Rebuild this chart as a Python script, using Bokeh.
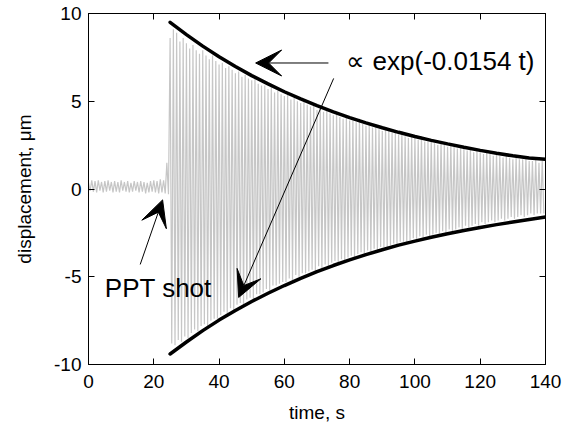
import numpy as np
from bokeh.plotting import figure
from bokeh.models import Label, Arrow, VeeHead, LinearAxis, FixedTicker, Range1d, CustomJSTickFormatter
from bokeh.embed import file_html
from bokeh.resources import INLINE

# ---------------- data ----------------
x_ticks = [0, 20, 40, 60, 80, 100, 120, 140]
y_ticks = [-10, -5, 0, 5, 10]

# fitted decay envelope (black curves)
env_t = [25, 30, 35, 40, 45, 50, 55, 60, 65, 70, 75, 80, 85, 90, 95, 100,
         105, 110, 115, 120, 125, 130, 135, 140]
env_upper = [9.50, 8.80, 8.14, 7.54, 6.98, 6.46, 5.99, 5.54, 5.13, 4.75, 4.40, 4.07,
             3.77, 3.49, 3.23, 2.99, 2.77, 2.57, 2.38, 2.20, 2.04, 1.89, 1.77, 1.70]
env_lower = [-9.40, -8.72, -8.07, -7.47, -6.92, -6.41, -5.94, -5.50, -5.09, -4.71, -4.36,
             -4.04, -3.74, -3.46, -3.20, -2.97, -2.75, -2.55, -2.36, -2.19, -2.03, -1.88,
             -1.74, -1.60]

# measured displacement signal: positive and negative peaks, one cycle per second
sig_t = np.arange(0, 140, 1.0)
pre_hi = [0.35, 0.50, 0.45, 0.50, 0.40, 0.45, 0.50, 0.40, 0.45, 0.40, 0.50, 0.40, 0.45,
          0.35, 0.45, 0.40, 0.45, 0.40, 0.35, 0.45, 0.50, 0.45, 0.55, 0.50, 1.50]
pre_lo = [-0.10, -0.15, -0.20, -0.10, -0.20, -0.15, -0.10, -0.20, -0.15, -0.20, -0.10,
          -0.15, -0.20, -0.15, -0.10, -0.20, -0.15, -0.25, -0.20, -0.15, -0.20, -0.25,
          -0.20, -0.25, -0.30]
post_hi = [8.6, 9.1, 8.9, 8.4, 8.6, 8.3, 8.0, 8.2, 7.9, 7.7, 7.9, 7.6, 7.4, 7.6, 7.3, 7.1,
           7.2, 6.9, 7.0, 6.8, 6.6, 6.7, 6.4, 6.5, 6.3, 6.2, 6.3, 6.0, 5.9, 5.9, 5.7, 5.8,
           5.5, 5.6, 5.4, 5.3, 5.4, 5.1, 5.2, 5.0, 4.9, 5.0, 4.8, 4.7, 4.8, 4.5, 4.6, 4.4,
           4.5, 4.3, 4.2, 4.4, 4.1, 4.0, 4.2, 3.9, 3.9, 3.8, 4.0, 3.7, 3.6, 3.7, 3.5, 3.6,
           3.4, 3.3, 3.5, 3.3, 3.2, 3.2, 3.1, 3.3, 3.0, 2.9, 3.0, 2.9, 2.8, 3.0, 2.7, 2.7,
           2.8, 2.6, 2.5, 2.7, 2.5, 2.4, 2.6, 2.4, 2.3, 2.4, 2.3, 2.2, 2.3, 2.1, 2.2, 2.1,
           2.0, 2.2, 2.0, 1.9, 2.0, 1.9, 1.8, 2.0, 1.8, 1.7, 1.8, 1.7, 1.7, 1.8, 1.6, 1.6,
           1.7, 1.5, 1.6]
post_lo = [-8.8, -8.9, -8.6, -8.7, -8.4, -8.5, -8.2, -8.0, -8.1, -7.8, -7.7, -7.8, -7.5,
           -7.4, -7.4, -7.2, -7.0, -7.1, -6.8, -6.9, -6.6, -6.5, -6.6, -6.3, -6.2, -6.3,
           -6.0, -6.0, -5.9, -5.7, -5.8, -5.5, -5.5, -5.4, -5.3, -5.3, -5.1, -5.2, -4.9,
           -5.0, -4.8, -4.8, -4.7, -4.6, -4.7, -4.4, -4.5, -4.3, -4.4, -4.2, -4.1, -4.2,
           -4.0, -4.1, -3.9, -3.8, -3.9, -3.7, -3.6, -3.8, -3.5, -3.6, -3.4, -3.5, -3.3,
           -3.3, -3.4, -3.2, -3.1, -3.2, -3.0, -3.0, -3.1, -2.9, -2.8, -2.9, -2.7, -2.8,
           -2.6, -2.7, -2.6, -2.5, -2.6, -2.4, -2.5, -2.3, -2.4, -2.3, -2.2, -2.3, -2.1,
           -2.2, -2.1, -2.0, -2.1, -1.9, -2.0, -1.9, -1.8, -1.9, -1.8, -1.7, -1.8, -1.7,
           -1.6, -1.7, -1.6, -1.5, -1.6, -1.5, -1.4, -1.5, -1.4, -1.4, -1.4]

# ---------------- figure ----------------
FONT = "Liberation Sans"
p = figure(width=567, height=427, output_backend="svg", toolbar_location=None,
           x_range=Range1d(0, 140), y_range=Range1d(-10, 10),
           min_border_left=88, min_border_right=22, min_border_top=13,
           min_border_bottom=63)
p.background_fill_color = "white"
p.border_fill_color = "white"
p.grid.visible = False
p.outline_line_color = "black"
p.outline_line_width = 1

hi = list(pre_hi) + list(post_hi)
lo = list(pre_lo) + list(post_lo)
zx, zy = [], []
for t, a, b in zip(sig_t, hi, lo):
    zx += [t, t + 0.5]
    zy += [a, b]
p.line(zx, zy, line_color="#c6c6c6", line_width=1.2)

p.line(env_t, env_upper, line_color="black", line_width=3.5, line_cap="round")
p.line(env_t, env_lower, line_color="black", line_width=3.5, line_cap="round")

def style_axis(ax, show_labels=True):
    ax.axis_line_color = "black"
    ax.major_tick_in = 6
    ax.major_tick_out = 0
    ax.minor_tick_in = 0
    ax.minor_tick_out = 0
    ax.major_tick_line_color = "black"
    ax.major_label_text_font = FONT
    ax.major_label_text_font_size = "19px"
    ax.major_label_text_color = "black"
    ax.axis_label_text_font = FONT
    ax.axis_label_text_font_size = "19px"
    ax.axis_label_text_font_style = "normal"
    ax.axis_label_text_color = "black"
    if show_labels:
        ax.formatter = CustomJSTickFormatter(code="return tick.toString()")
    else:
        ax.formatter = CustomJSTickFormatter(code="return ''")
        ax.major_label_standoff = 0

p.xaxis.ticker = FixedTicker(ticks=x_ticks)
p.yaxis.ticker = FixedTicker(ticks=y_ticks)
style_axis(p.xaxis[0])
style_axis(p.yaxis[0])
p.xaxis.axis_label = "time, s"
p.yaxis.axis_label = "displacement, \u03bcm"
p.xaxis.major_label_standoff = 10
p.yaxis.major_label_standoff = 7
p.xaxis.axis_label_standoff = 11
p.yaxis.axis_label_standoff = 16

top = LinearAxis(ticker=FixedTicker(ticks=x_ticks))
right = LinearAxis(ticker=FixedTicker(ticks=y_ticks))
style_axis(top, False)
style_axis(right, False)
p.add_layout(top, "above")
p.add_layout(right, "right")

# ---------------- annotations ----------------
p.add_layout(Label(x=79.0, y=7.32, text="\u221d exp(-0.0154 t)", text_font=FONT,
                   text_font_size="26px", text_baseline="middle", text_align="left",
                   text_color="black"))
p.add_layout(Label(x=5.0, y=-5.64, text="PPT shot", text_font=FONT,
                   text_font_size="26px", text_baseline="middle", text_align="left",
                   text_color="black"))

def arrow(x0, y0, x1, y1):
    p.add_layout(Arrow(end=VeeHead(size=26, fill_color="black", line_color="black",
                                   line_width=1),
                       x_start=x0, y_start=y0, x_end=x1, y_end=y1,
                       line_color="black", line_width=1))

arrow(73.5, 7.18, 51.2, 7.18)
arrow(75.1, 6.30, 46.0, -6.18)
arrow(15.84, -4.30, 22.7, -0.62)

open("out.html", "w").write(file_html(p, INLINE))
